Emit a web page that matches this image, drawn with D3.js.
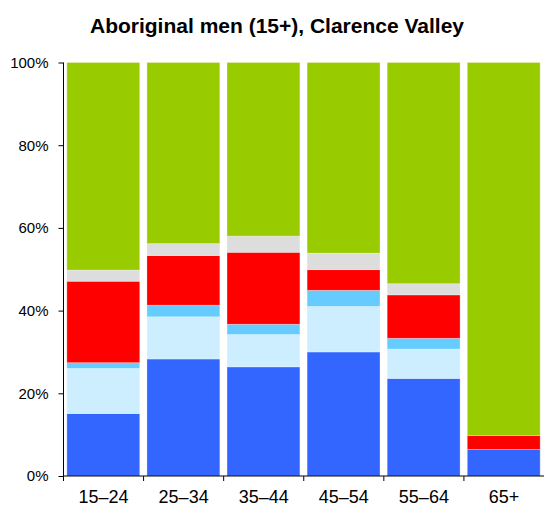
<!DOCTYPE html>
<html>
<head>
<meta charset="utf-8">
<script src="https://cdn.jsdelivr.net/npm/d3@7"></script>
<style>
  body { margin: 0; background: #fff; }
  text { font-family: "Liberation Sans", Arial, Helvetica, sans-serif; fill: #000; }
</style>
</head>
<body>
<div class="chart"></div>
<script>
// age groups along the x axis
const ageGroups = ['15–24', '25–34', '35–44', '45–54', '55–64', '65+'];

// stacked series, bottom to top (percent of each age group)
const seriesNames = ['Full-time', 'Part-time', 'Away from work', 'Unemployed', 'Not stated', 'Not in labour force'];
const seriesColors = ['#3366ff', '#cceeff', '#66ccff', '#ff0000', '#dddddd', '#99cc00'];

const fullTime   = [15.1, 28.3, 26.4, 30.0, 23.6, 6.4];
const partTime   = [10.9, 10.2,  7.8, 11.0,  7.1, 0];
const awayWork   = [ 1.4,  2.8,  2.5,  3.9,  2.6, 0];
const unemployed = [19.7, 12.0, 17.4,  5.0, 10.5, 3.4];
const notStated  = [ 2.7,  2.9,  3.9,  4.0,  2.7, 0];
const notInLF    = [50.2, 43.8, 42.0, 46.1, 53.5, 90.2];

const yTicks = [0, 20, 40, 60, 80, 100];

const seriesValues = [fullTime, partTime, awayWork, unemployed, notStated, notInLF];

const table = ageGroups.map((g, i) => {
    const row = {group: g};
    seriesNames.forEach((s, j) => { row[s] = seriesValues[j][i]; });
    return row;
});

const margin = ({top: 62.5, right: 0, bottom: 30, left: 63.5});
const width = 544 - margin.left - margin.right;
const height = 506 - margin.top - margin.bottom;

const svg = d3.select('.chart')
                .append('svg')
                .attr('width', 544)
                .attr('height', 506);

svg.append('text')
    .attr('x', 277)
    .attr('y', 33)
    .attr('text-anchor', 'middle')
    .style('font-size', '21px')
    .style('font-weight', 'bold')
    .text('Aboriginal men (15+), Clarence Valley');

const g = svg.append('g')
            .attr('transform', `translate(${margin.left}, ${margin.top})`);

const xScale = d3.scaleBand()
                .domain(ageGroups)
                .range([0, width]);

const yScale = d3.scaleLinear()
                .domain([0, 100])
                .range([height, 0]);

const stack = d3.stack().keys(seriesNames);
const layers = stack(table);

const barPad = xScale.bandwidth() * 0.042;
const barWidth = xScale.bandwidth() * 0.91;

g.selectAll('g.layer')
    .data(layers)
    .enter()
    .append('g')
    .attr('class', 'layer')
    .attr('fill', (d, i) => seriesColors[i])
    .selectAll('rect')
    .data(d => d.filter(p => p[1] - p[0] > 0))
    .enter()
    .append('rect')
    .attr('x', d => xScale(d.data.group) + barPad)
    .attr('y', d => yScale(d[1]))
    .attr('width', barWidth)
    .attr('height', d => yScale(d[0]) - yScale(d[1]))
    .attr('stroke', '#ffffff')
    .attr('stroke-opacity', 0.35)
    .attr('stroke-width', 0.8);

const xAxis = d3.axisBottom(xScale)
                .tickSize(0)
                .tickPadding(14);

const yAxis = d3.axisLeft(yScale)
                .tickValues(yTicks)
                .tickFormat(d => d + '%')
                .tickSize(5)
                .tickPadding(10);

const xg = g.append('g')
    .attr('class', 'axis x-axis')
    .attr('transform', 'translate(0,' + height + ')')
    .call(xAxis);
xg.select('.domain').attr('d', `M0,0H${width}`).attr('stroke', '#000');
xg.selectAll('text')
    .style('font-size', '18px')
    .style('font-family', '"Liberation Sans Narrow", "Liberation Sans", Arial, sans-serif');

// tick marks on band boundaries
xg.selectAll('line.boundary')
    .data(ageGroups)
    .enter()
    .append('line')
    .attr('class', 'boundary')
    .attr('x1', d => xScale(d))
    .attr('x2', d => xScale(d))
    .attr('y1', 0)
    .attr('y2', 5)
    .attr('stroke', '#000');

const yg = g.append('g')
    .attr('class', 'axis y-axis')
    .call(yAxis);
yg.select('.domain').attr('d', `M0,0V${height}`).attr('stroke', '#000');
yg.selectAll('text').style('font-size', '15px');
</script>
</body>
</html>
